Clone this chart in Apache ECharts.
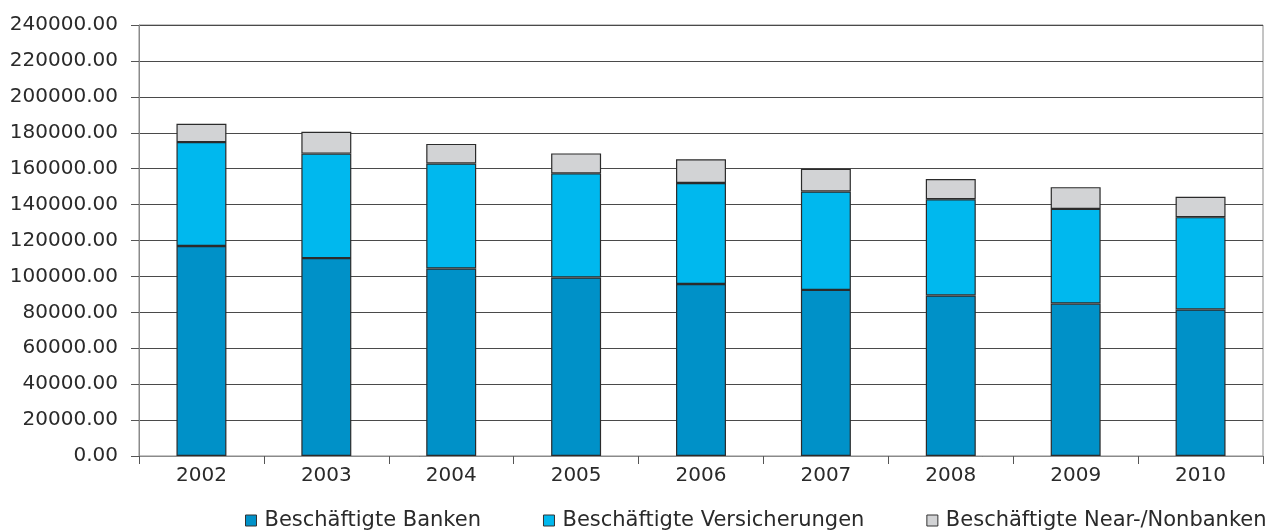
<!DOCTYPE html>
<html>
<head>
<meta charset="utf-8">
<script src="https://cdn.jsdelivr.net/npm/echarts@6/dist/echarts.min.js"></script>
<style>
  html, body { margin: 0; padding: 0; background: #ffffff; }
  #chart { width: 1276px; height: 532px; }
</style>
</head>
<body>
<div id="chart"></div>
<script>
// Beschäftigte im Finanzsektor, 2002–2010 (gestapelt)
const years = ['2002', '2003', '2004', '2005', '2006', '2007', '2008', '2009', '2010'];
const banken = [116900, 110200, 104400, 99400, 95800, 92500, 89400, 84900, 81600];
const versicherungen = [57900, 58200, 58500, 58000, 56200, 54800, 53600, 52700, 51400];
const nonbanken = [10200, 12100, 10900, 11100, 13200, 12600, 11200, 12100, 11300];
const seriesNames = ['Beschäftigte Banken', 'Beschäftigte Versicherungen', 'Beschäftigte Near-/Nonbanken'];
const colors = ['#0091C8', '#00B8EE', '#D2D3D5'];

const font = 'DejaVu Sans';

function barSeries(name, data, color) {
  return {
    name: name,
    type: 'bar',
    stack: 'total',
    data: data,
    barWidth: '40%',
    itemStyle: { color: color, borderColor: '#2b2b2b', borderWidth: 1.2 },
    emphasis: { disabled: true }
  };
}

const chart = echarts.init(document.getElementById('chart'), null, { renderer: 'canvas' });
chart.setOption({
  animation: false,
  backgroundColor: '#ffffff',
  grid: {
    left: 139, right: 13, top: 25, bottom: 76,
    show: true, borderColor: '#8a8a8a', borderWidth: 1
  },
  legend: {
    left: 240,
    top: 505,
    padding: 5,
    itemWidth: 11,
    itemHeight: 11,
    itemGap: 62,
    icon: 'rect',
    itemStyle: { borderColor: '#333', borderWidth: 1 },
    textStyle: { fontFamily: font, fontSize: 21, color: '#2a2a2a', padding: [0, 0, 0, 3] },
    data: seriesNames
  },
  xAxis: {
    type: 'category',
    data: years,
    boundaryGap: true,
    axisLine: { lineStyle: { color: '#8a8a8a', width: 1 } },
    axisTick: { show: true, length: 8, lineStyle: { color: '#555' } },
    axisLabel: { fontFamily: font, fontSize: 20, color: '#2a2a2a', margin: 10 }
  },
  yAxis: {
    type: 'value',
    min: 0,
    max: 240000,
    interval: 20000,
    axisLine: { show: true, lineStyle: { color: '#8a8a8a', width: 1 } },
    axisTick: { show: true, length: 8, lineStyle: { color: '#555' } },
    axisLabel: {
      fontFamily: font, fontSize: 20, color: '#2a2a2a', margin: 21,
      formatter: function (v) { return v.toFixed(2); }
    },
    splitLine: { lineStyle: { color: '#4a4a4a', width: 1 } }
  },
  series: [
    barSeries(seriesNames[0], banken, colors[0]),
    barSeries(seriesNames[1], versicherungen, colors[1]),
    barSeries(seriesNames[2], nonbanken, colors[2])
  ]
});
</script>
</body>
</html>
